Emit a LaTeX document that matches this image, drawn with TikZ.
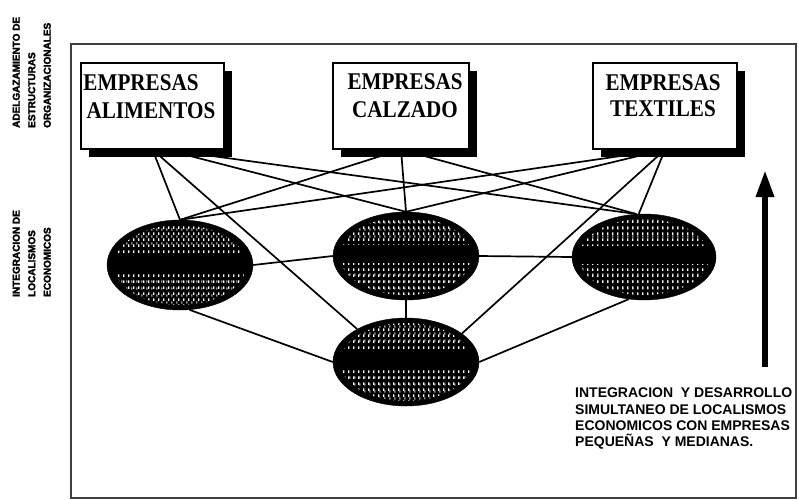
\documentclass[tikz,border=0pt]{standalone}
\usepackage{fontspec}
\setmainfont{Liberation Serif}
\newfontfamily\boxfont{Liberation Serif}[FakeStretch=0.88]
\newfontfamily\notefont{Liberation Sans}
\newfontfamily\sidefont{Liberation Sans}[FakeBold=2.4]
\usetikzlibrary{shapes.geometric,shadows,arrows.meta,patterns,calc}

% white vertical flecks used to texture the dark hubs
\pgfdeclarepatternformonly{speckle}{\pgfpointorigin}{\pgfpoint{4.5pt}{6pt}}{\pgfpoint{4.5pt}{6pt}}{%
  \pgfpathrectangle{\pgfpoint{1.2pt}{1.2pt}}{\pgfpoint{1.5pt}{3.0pt}}\pgfusepath{fill}}
\pgfdeclarepatternformonly{fleck}{\pgfpointorigin}{\pgfpoint{5.3pt}{7.4pt}}{\pgfpoint{5.3pt}{7.4pt}}{%
  \pgfpathrectangle{\pgfpoint{0.3pt}{3.5pt}}{\pgfpoint{1.3pt}{2.4pt}}\pgfusepath{fill}}

\pgfdeclarelayer{bg}
\pgfsetlayers{bg,main}

% speckled upper and lower bands inside a hub: node, x radius, y radius
\newcommand\hubtexture[3]{%
  \begin{scope}
    \clip (#1.center) ellipse [x radius=#2pt, y radius=#3pt];
    \fill[pattern=speckle, pattern color=white]
      ($(#1.center)+(-#2,-#3)$) rectangle ($(#1.center)+(#2,-0.3*#3)$);
    \fill[pattern=fleck, pattern color=white!85!black]
      ($(#1.center)+(-#2,-#3)$) rectangle ($(#1.center)+(#2,-0.45*#3)$);
    \fill[pattern=speckle, pattern color=white]
      ($(#1.center)+(-#2,0.2*#3)$) rectangle ($(#1.center)+(#2,#3)$);
    \fill[pattern=fleck, pattern color=white!85!black]
      ($(#1.center)+(-#2,0.35*#3)$) rectangle ($(#1.center)+(#2,#3)$);
  \end{scope}}

\tikzset{
  firm/.style={draw=black, line width=1.2pt, fill=white, minimum width=#1,
    minimum height=86pt, inner sep=0pt,
    drop shadow={shadow xshift=8pt, shadow yshift=-8pt, fill=black, opacity=1}},
  firmlabel/.style={font=\boxfont\bfseries\fontsize{24}{28}\selectfont,
    inner sep=0pt, anchor=base},
  hub/.style n args={2}{ellipse, fill=black, draw=black, inner sep=0pt,
    minimum width=#1, minimum height=#2},
  link/.style={black, line width=1.7pt},
  frame/.style={draw=black!75, line width=1.5pt},
  sidenote/.style={font=\sidefont\bfseries\fontsize{10}{15.5}\selectfont,
    rotate=90, align=left, anchor=south west, inner sep=0pt},
  note/.style={font=\notefont\bfseries\fontsize{14}{16.2}\selectfont,
    align=left, inner sep=0pt, anchor=north west},
  rise/.style={line width=6pt, -{Triangle[width=17pt,length=27pt]}}
}

\begin{document}
\begin{tikzpicture}[x=1pt, y=-1pt]
  \useasboundingbox (0,0) rectangle (799,499);

  % firm boxes
  \node[firm=143pt] (alim)   at (152.5,106) {};
  \node[firm=136pt] (calz)   at (401,106)   {};
  \node[firm=144pt] (textil) at (665,106)   {};
  \node[firmlabel] (alimA)   at (141,90)  {EMPRESAS};
  \node[firmlabel] (alimB)   at (151,118) {ALIMENTOS};
  \node[firmlabel] (calzA)   at (405,89)  {EMPRESAS};
  \node[firmlabel] (calzB)   at (405,117) {CALZADO};
  \node[firmlabel] (textilA) at (663,90)  {EMPRESAS};
  \node[firmlabel] (textilB) at (663,116) {TEXTILES};

  % local economic hubs
  \node[hub={146pt}{90pt}] (eL) at (180,265) {};
  \node[hub={146pt}{88pt}] (eM) at (406,256) {};
  \node[hub={144pt}{86pt}] (eR) at (644,257) {};
  \node[hub={146pt}{88pt}] (eB) at (406,362) {};
  \hubtexture{eL}{66}{40}
  \hubtexture{eM}{66}{39}
  \hubtexture{eR}{65}{38}
  \hubtexture{eB}{66}{39}

  % side captions
  \node[sidenote] (capTop) at (51,128)
    {ADELGAZAMIENTO DE\\ESTRUCTURAS\\ORGANIZACIONALES};
  \node[sidenote] (capLow) at (51,297)
    {INTEGRACION DE\\LOCALISMOS\\ECONOMICOS};

  % caption under the arrow
  \node[note] (noteText) at (575,388)
    {INTEGRACION\ \ Y DESARROLLO\\SIMULTANEO DE LOCALISMOS\\ECONOMICOS CON EMPRESAS\\PEQUEÑAS\ \ Y MEDIANAS.};

  % upward arrow
  \coordinate (riseFoot) at (765,367);
  \coordinate (riseTip)  at (765,170);
  \draw[rise] (riseFoot) -- (riseTip);

  \begin{pgfonlayer}{bg}
    \fill[white] (0,0) rectangle (799,499);
    \draw[frame] (71,44) rectangle (796,498);

    % firms to hubs
    \draw[link] (alim.south) -- (eL.north);
    \draw[link] (alim.south) -- (eB.146);
    \draw[link] ($(alim.south)+(13,0)$) -- (eM.north);
    \draw[link] ($(alim.south)+(13,0)$) -- (eR.100);
    \draw[link] (calz.south) -- (eL.north);
    \draw[link] (calz.south) -- (eM.north);
    \draw[link] (calz.south) -- (eR.100);
    \draw[link] (textil.south) -- (eL.north);
    \draw[link] (textil.south) -- (eM.north);
    \draw[link] (textil.south) -- (eR.97);
    \draw[link] (textil.south) -- (eB.27);

    % hubs to hubs
    \draw[link] (eL.east) -- (eM.west);
    \draw[link] (eM.east) -- (eR.west);
    \draw[link] (eM.south) -- (eB.north);
    \draw[link] (eL.-78) -- (eB.west);
    \draw[link] (eR.250) -- (eB.east);
  \end{pgfonlayer}
\end{tikzpicture}
\end{document}
